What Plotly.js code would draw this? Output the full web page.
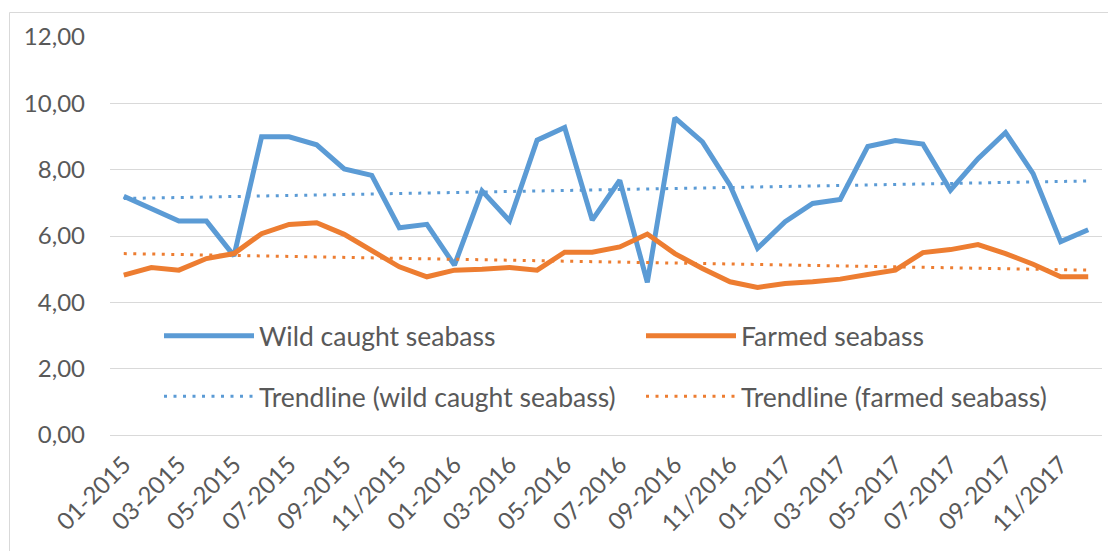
<!DOCTYPE html>
<html>
<head>
<meta charset="utf-8">
<script src="https://cdn.plot.ly/plotly-3.0.1.min.js"></script>
<style>
  html, body { margin: 0; padding: 0; background: #ffffff; }
  #chart { width: 1108px; height: 551px; }
</style>
</head>
<body>
<div id="chart"></div>
<script>
// ---- data ----
const months = [
  "01-2015","02-2015","03-2015","04-2015","05-2015","06-2015","07-2015","08-2015","09-2015","10-2015","11/2015","12-2015",
  "01-2016","02-2016","03-2016","04-2016","05-2016","06-2016","07-2016","08-2016","09-2016","10-2016","11/2016","12-2016",
  "01-2017","02-2017","03-2017","04-2017","05-2017","06-2017","07-2017","08-2017","09-2017","10-2017","11/2017","12-2017"
];
const wildCaught = [7.20,6.81,6.45,6.45,5.40,8.99,8.99,8.75,8.02,7.83,6.25,6.35,
                    5.12,7.36,6.46,8.89,9.27,6.48,7.68,4.60,9.56,8.84,7.53,5.63,
                    6.43,6.98,7.10,8.70,8.88,8.77,7.38,8.33,9.12,7.88,5.83,6.19];
const farmed = [4.82,5.05,4.97,5.32,5.47,6.07,6.35,6.40,6.05,5.57,5.07,4.77,
                4.97,5.00,5.05,4.97,5.51,5.51,5.67,6.06,5.47,5.02,4.62,4.45,
                4.57,4.62,4.70,4.84,4.97,5.50,5.59,5.74,5.47,5.15,4.77,4.77];
// trendline end values (first and last month)
const trendMonths = ["01-2015","12-2017"];
const trendWild = [7.13, 7.66];
const trendFarmed = [5.47, 4.97];
const yTicks = [0,2,4,6,8,10,12];

const blue = "#5B9BD5", orange = "#ED7D31", txt = "#595959", grid = "#D9D9D9";
const FONT = "Lato, 'Liberation Sans', sans-serif";

const traces = [
  {x: months, y: wildCaught, type: "scatter", mode: "lines", name: "Wild caught seabass",
   line: {color: blue, width: 5}, legend: "legend", legendgroup: "a"},
  {x: months, y: farmed, type: "scatter", mode: "lines", name: "Farmed seabass",
   line: {color: orange, width: 5}, legend: "legend2", legendgroup: "b"},
  {x: trendMonths, y: trendWild, type: "scatter", mode: "lines", name: "Trendline (wild caught seabass)",
   line: {color: blue, width: 3, dash: "3px,6.5px"}, legend: "legend", legendgroup: "c"},
  {x: trendMonths, y: trendFarmed, type: "scatter", mode: "lines", name: "Trendline (farmed seabass)",
   line: {color: orange, width: 3, dash: "3px,6.5px"}, legend: "legend2", legendgroup: "d"}
];

const L = 110, R = 6, T = 37, B = 116, W = 1108, H = 551;
const pw = W - L - R, ph = H - T - B;
const px = v => (v - L) / pw;
const py = v => (H - B - v) / ph;

const legendCommon = {
  orientation: "v", traceorder: "grouped", tracegroupgap: 23,
  bgcolor: "rgba(0,0,0,0)", borderwidth: 0,
  font: {family: FONT, size: 26.5, color: txt},
  itemwidth: 90, xanchor: "left", yanchor: "top"
};

const layout = {
  width: W, height: H,
  margin: {l: L, r: R, t: T, b: B, pad: 0},
  paper_bgcolor: "#ffffff", plot_bgcolor: "#ffffff",
  separators: ",.",
  font: {family: FONT, size: 24, color: txt},
  showlegend: true,
  xaxis: {
    type: "category", categoryorder: "array", categoryarray: months,
    range: [-0.5, 35.5], dtick: 2, tick0: 0,
    tickangle: -45, showgrid: false, zeroline: false, showline: false,
    ticks: "", ticklabelstandoff: 10,
    tickfont: {family: FONT, size: 24, color: txt}, fixedrange: true
  },
  yaxis: {
    range: [0, 12], tickvals: yTicks, tickformat: ".2f",
    showgrid: true, gridcolor: grid, gridwidth: 1,
    zeroline: true, zerolinecolor: grid, zerolinewidth: 1,
    showline: false, ticks: "", ticklabelstandoff: 24,
    tickfont: {family: FONT, size: 24, color: txt}, fixedrange: true
  },
  legend: Object.assign({}, legendCommon, {x: px(159), y: py(312)}),
  legend2: Object.assign({}, legendCommon, {x: px(641), y: py(312)}),
  shapes: [{
    type: "rect", xref: "paper", yref: "paper", layer: "below",
    x0: px(9.5), x1: px(1115), y0: py(560), y1: py(12.5),
    line: {color: grid, width: 1}, fillcolor: "rgba(0,0,0,0)"
  }]
};

Plotly.newPlot("chart", traces, layout, {staticPlot: true, displayModeBar: false});
</script>
</body>
</html>
